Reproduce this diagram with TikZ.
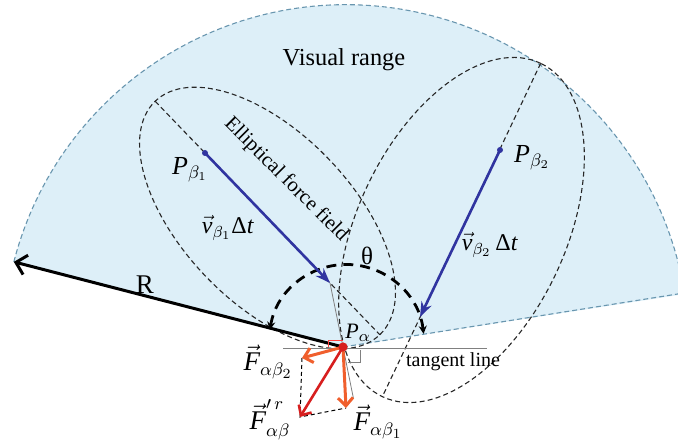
\documentclass[tikz,border=0pt]{standalone}
\usepackage{fontspec}
\setmainfont{Liberation Serif}
\usetikzlibrary{arrows.meta,calc}
\definecolor{skyfill}{RGB}{221,239,248}
\definecolor{skyedge}{RGB}{105,150,175}
\definecolor{vblue}{RGB}{48,52,160}
\definecolor{forange}{RGB}{240,95,45}
\definecolor{fred}{RGB}{215,30,30}
\begin{document}
\begin{tikzpicture}[x=0.5pt,y=0.5pt,
  ell/.style={draw=black!85, line width=0.55pt, dash pattern=on 2.5pt off 1.6pt},
  skyline/.style={draw=skyedge, line width=0.55pt, dash pattern=on 2.5pt off 1.5pt},
  thickdash/.style={draw=black, line width=1.4pt, dash pattern=on 5pt off 3.5pt},
  velarrow/.style={draw=vblue, line width=1.3pt, -{Stealth[length=7.5pt,width=5.5pt]}},
  forcearrow/.style={line width=1.5pt, -{Straight Barb[length=4pt,width=7.5pt]}},
  thinline/.style={draw=gray, line width=0.4pt},
  lbl/.style={inner sep=0pt, font=\fontsize{12}{14}\selectfont},
  flbl/.style={inner sep=0pt, font=\fontsize{13.5}{15}\selectfont},
  slbl/.style={inner sep=0pt, font=\fontsize{11}{13}\selectfont},
  ]
\useasboundingbox (0,0) rectangle (678,442);
\clip (0,0) rectangle (678,442);
% key points
\coordinate (Pa) at (343,95);
\coordinate (RL) at ($(Pa)+(165.5:340)$);
\coordinate (RR) at ($(Pa)+(9:343)$);
\coordinate (Pb1) at (205,289);
\coordinate (Pb1t) at (330,159);
\coordinate (Pb2) at (500,292);
\coordinate (Pb2t) at (420,125);
\coordinate (E1c) at ($(Pb1)!0.5!(Pb1t)$);
\coordinate (E1a) at ($(E1c)+(133.9:162)$);
\coordinate (E1b) at ($(E1c)+(-46.1:162)$);
\coordinate (E2c) at (461.5,212);
\coordinate (E2a) at ($(E2c)+(64.6:184.5)$);
\coordinate (E2b) at ($(E2c)+(244.6:184.5)$);
\coordinate (Th) at (346.5,100);
\coordinate (ThL) at ($(Th)+(171:77.5)$);
\coordinate (NrmEnd) at ($(Pb1t)!1.8!(Pa)$);
\coordinate (TL1) at (283,94);
\coordinate (TL2) at (487,94);
\coordinate (F2) at (302,84);
\coordinate (F1) at (346,34);
\coordinate (Fr) at (300,25);
% visual range sector
\fill[skyfill] (Pa) -- (RL) arc[start angle=165.5, end angle=9, radius=171.5pt] -- cycle;
\draw[skyline] (RL) arc[start angle=165.5, end angle=9, radius=171.5pt];
\draw[skyline] (Pa) -- (RR);
% ellipses
\draw[ell] (E1c) ellipse [x radius=81pt, y radius=42.5pt, rotate=-46.1];
\draw[ell] (E1a) -- (E1b);
\draw[ell] (E2c) ellipse [x radius=92.25pt, y radius=52pt, rotate=64.6];
\draw[ell] (E2a) -- (E2b);
% thin lines
\draw[thinline] (Pb1t) -- (NrmEnd);
\draw[thinline] (TL1) -- (TL2);
% theta arc
\draw[thickdash, {Stealth[length=4pt,width=4pt]}-{Stealth[length=4pt,width=4pt]}]
  (ThL) arc[start angle=171, end angle=6, radius=38.75pt];
% R
\draw[line width=1.5pt, -{Straight Barb[length=5pt,width=10pt]}] (Pa) -- (RL);
% velocities
\draw[velarrow] (Pb1) -- (Pb1t);
\draw[velarrow] (Pb2) -- (Pb2t);
\fill[vblue] (Pb1) circle[radius=1.5pt];
\fill[vblue] (Pb2) circle[radius=1.5pt];
% right-angle marks
\draw[red!75, line width=0.4pt] ($(Pa)+(-15,0)$) -- ($(Pa)+(-15,7)$) -- ($(Pa)+(0,7)$);
\draw[gray, line width=0.4pt] ($(Pa)+(5,-15)$) -- ($(Pa)+(17,-15)$) -- ($(Pa)+(17,-3)$);
% force parallelogram
\draw[black, line width=0.5pt, dash pattern=on 2pt off 1.5pt] (F2) -- (Fr) -- (F1);
\draw[forcearrow, forange] (Pa) -- (F2);
\draw[forcearrow, forange] (Pa) -- (F1);
\draw[forcearrow, fred, line width=1.3pt] (Pa) -- (Fr);
\fill[fred] (Pa) circle[radius=2.3pt];
% labels
\node[inner sep=0pt, font=\fontsize{12.2}{14}\selectfont] (lvr) at (344,382) {Visual range};
\node[inner sep=0pt, rotate=-45, font=\fontsize{10.3}{12}\selectfont] (leff) at (286,262) {Elliptical force field};
\node[lbl, font=\fontsize{13}{15}\selectfont] (lPb1) at (190,272) {\textit{P}$_{\beta_1}$};
\node[lbl] (lv1) at (228,214) {$\vec{\mbox{\textit{v}}}_{\beta_1}$Δ\textit{t}};
\node[lbl, font=\fontsize{13}{15}\selectfont] (lPb2) at (532,284) {\textit{P}$_{\beta_2}$};
\node[lbl] (lv2) at (490,197) {$\vec{\mbox{\textit{v}}}_{\beta_2}$\,Δ\textit{t}};
\node[lbl, font=\fontsize{12.5}{14}\selectfont] (lth) at (367,186) {θ};
\node[inner sep=0pt, font=\fontsize{13.5}{15}\selectfont] (lR) at (145,157) {R};
\node[slbl] (lPa) at (358,109) {\textit{P}$_{\alpha}$};
\node[flbl] (lF2) at (268,80) {$\vec{\mbox{\textit{F}}}_{\alpha\beta_2}$};
\node[flbl] (lFr) at (270,22) {$\vec{\mbox{\textit{F}}}'^{\,r}_{\alpha\beta}$};
\node[flbl] (lF1) at (378,20) {$\vec{\mbox{\textit{F}}}_{\alpha\beta_1}$};
\node[inner sep=0pt, font=\fontsize{10}{12}\selectfont] (ltl) at (453,80) {tangent line};
\end{tikzpicture}
\end{document}
